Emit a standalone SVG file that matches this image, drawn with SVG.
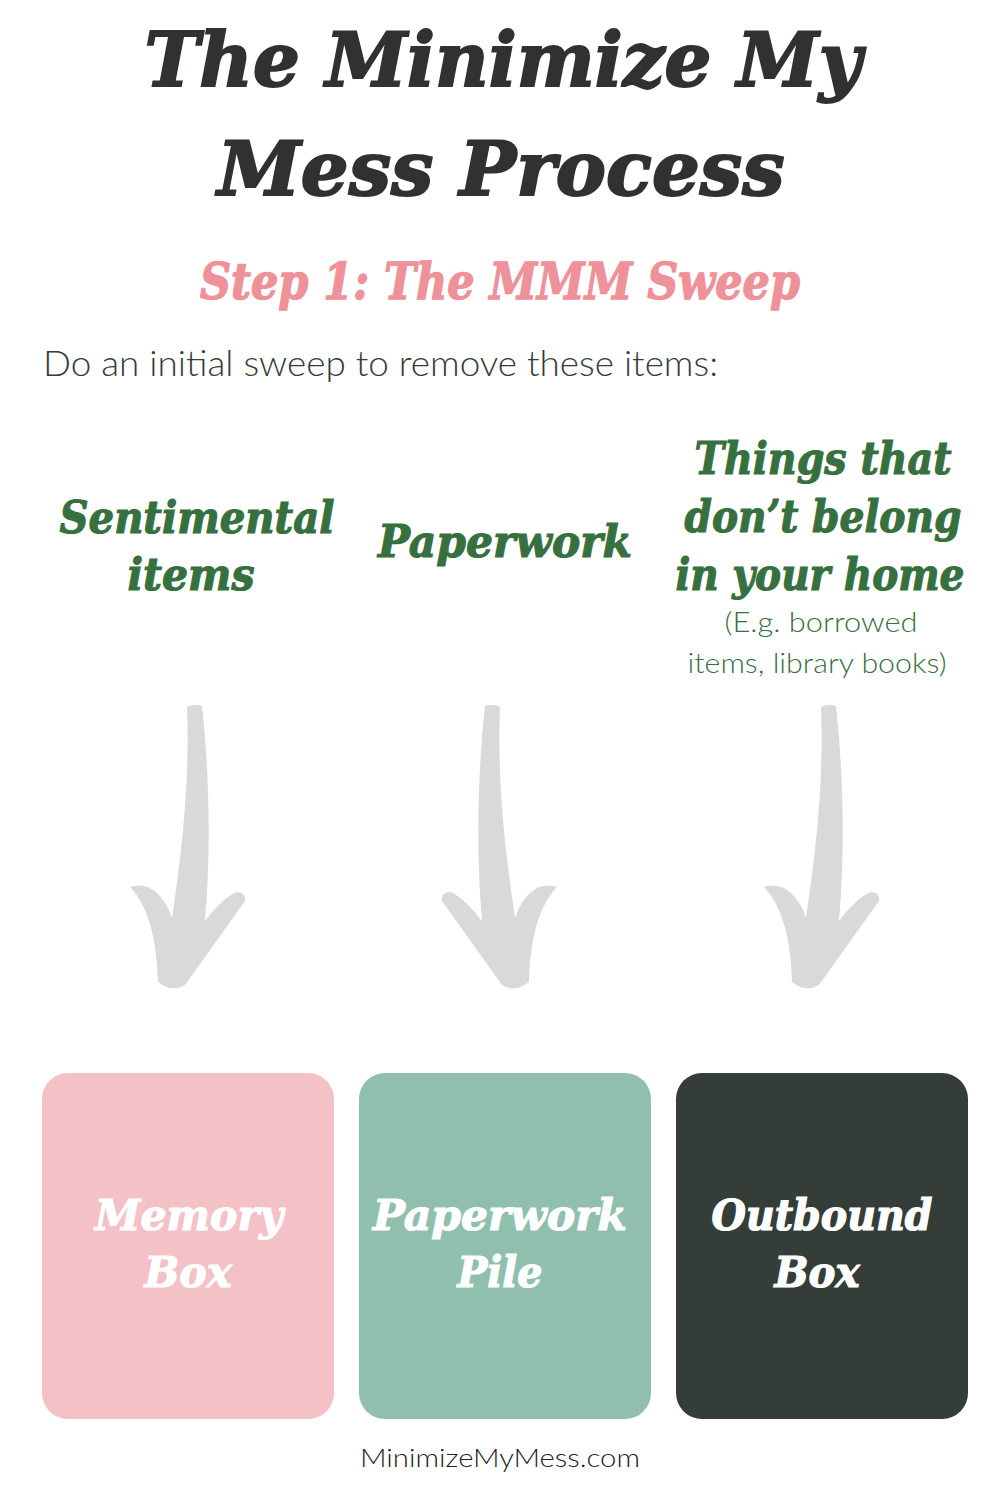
<svg xmlns="http://www.w3.org/2000/svg" xmlns:xlink="http://www.w3.org/1999/xlink" width="1000" height="1500" viewBox="0 0 1000 1500">
<style>
.fat{font-family:"DejaVu Serif","Liberation Serif",serif;font-weight:bold;font-style:italic;text-anchor:middle}
.title{font-size:74px;fill:#333031;stroke:#333031;stroke-width:2}
.step{font-size:50px;fill:#ee9199;stroke:#ee9199;stroke-width:1.4}
.grn{font-size:45px;fill:#37703f;stroke:#37703f;stroke-width:1.2}
.box{font-size:42px;fill:#ffffff;stroke:#ffffff;stroke-width:1.2}
.body{font-family:Lato,"Open Sans","Liberation Sans",sans-serif;font-weight:300}
.intro{font-size:36px;fill:#333d38}
.note{font-size:28px;fill:#37703f;text-anchor:middle}
.foot{font-size:26px;fill:#222222;text-anchor:middle}
.arrow{fill:#d9d9d9}
</style>
<defs>
<path id="arr" d="M187,707 Q194,703 202,706 C208,760 212,840 205,921 C215,908 226,896 237,892 Q246,892 245,901 L185,985 Q172,993 158,982 C157,950 152,910 130,887 Q138,884 148,887 C160,893 168,905 172,918 C182,850 190,780 187,707 Z"/>
</defs>
<rect width="1000" height="1500" fill="#ffffff"/>

<g id="title">
<text class="fat title" x="503" y="86" textLength="717" lengthAdjust="spacingAndGlyphs">The Minimize My</text>
<text class="fat title" x="501" y="195" textLength="567" lengthAdjust="spacingAndGlyphs">Mess Process</text>
</g>
<g id="step">
<text class="fat step" x="500" y="299" textLength="600" lengthAdjust="spacingAndGlyphs">Step 1: The MMM Sweep</text>
</g>
<g id="intro">
<text class="body intro" x="43" y="376" textLength="675" lengthAdjust="spacingAndGlyphs">Do an initial sweep to remove these items:</text>
</g>

<g id="label-sentimental">
<text class="fat grn" x="197" y="533" textLength="275" lengthAdjust="spacingAndGlyphs">Sentimental</text>
<text class="fat grn" x="191" y="590" textLength="127" lengthAdjust="spacingAndGlyphs">items</text>
</g>
<g id="label-paperwork">
<text class="fat grn" x="505" y="557" textLength="254" lengthAdjust="spacingAndGlyphs">Paperwork</text>
</g>
<g id="label-things">
<text class="fat grn" x="823" y="474" textLength="257" lengthAdjust="spacingAndGlyphs">Things that</text>
<text class="fat grn" x="823" y="532" textLength="277" lengthAdjust="spacingAndGlyphs">don’t belong</text>
<text class="fat grn" x="820" y="590" textLength="289" lengthAdjust="spacingAndGlyphs">in your home</text>
<text class="body note" x="821" y="632" textLength="193" lengthAdjust="spacingAndGlyphs">(E.g. borrowed</text>
<text class="body note" x="817" y="673" textLength="259" lengthAdjust="spacingAndGlyphs">items, library books)</text>
</g>

<g id="connectors">
<use xlink:href="#arr" class="arrow"/>
<use xlink:href="#arr" class="arrow" transform="translate(687,0) scale(-1,1)"/>
<use xlink:href="#arr" class="arrow" transform="translate(634,0)"/>
</g>

<g id="memory-box">
<rect x="42" y="1073" width="292" height="346" rx="26" fill="#f3c1c6"/>
<text class="fat box" x="189" y="1230" textLength="188" lengthAdjust="spacingAndGlyphs">Memory</text>
<text class="fat box" x="188" y="1287" textLength="87" lengthAdjust="spacingAndGlyphs">Box</text>
</g>
<g id="paperwork-pile">
<rect x="359" y="1073" width="292" height="346" rx="26" fill="#90bfae"/>
<text class="fat box" x="500" y="1230" textLength="254" lengthAdjust="spacingAndGlyphs">Paperwork</text>
<text class="fat box" x="500" y="1287" textLength="85" lengthAdjust="spacingAndGlyphs">Pile</text>
</g>
<g id="outbound-box">
<rect x="676" y="1073" width="292" height="346" rx="26" fill="#343d38"/>
<text class="fat box" x="822" y="1230" textLength="221" lengthAdjust="spacingAndGlyphs">Outbound</text>
<text class="fat box" x="817" y="1287" textLength="85" lengthAdjust="spacingAndGlyphs">Box</text>
</g>

<g id="footer">
<text class="body foot" x="500" y="1467" textLength="280" lengthAdjust="spacingAndGlyphs">MinimizeMyMess.com</text>
</g>
</svg>
